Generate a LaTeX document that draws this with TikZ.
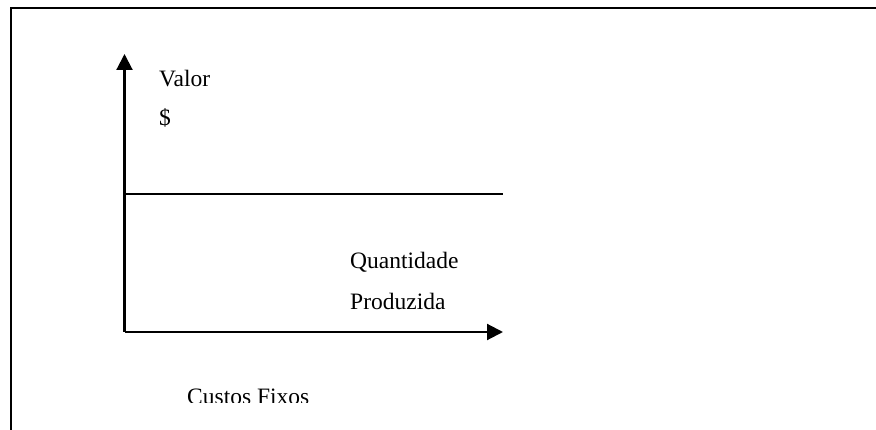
\documentclass[tikz,border=0pt]{standalone}
\usepackage{fontspec}
\setmainfont{Liberation Serif}
\usetikzlibrary{arrows.meta}
\begin{document}
\begin{tikzpicture}[x=1pt,y=-1pt,
  line/.style={line width=2.1pt},
  axis/.style={line width=2.1pt,-{Triangle[length=16pt,width=16pt]}},
  lbl/.style={anchor=base west,inner sep=0pt,font=\fontsize{23.5}{28}\selectfont}]
\useasboundingbox (0,0) rectangle (876,430);
\fill[white] (0,0) rectangle (876,430);
% frame
\coordinate (fbl) at (11,430);
\coordinate (ftl) at (11,8);
\coordinate (ftr) at (876,8);
\draw[line] (fbl) -- (ftl) -- (ftr);
% axes
\coordinate (o) at (124.5,332);
\coordinate (ytip) at (124.5,54);
\coordinate (xtip) at (503,332);
\draw[axis] (o) -- (ytip);
\draw[axis] (o) -- (xtip);
% fixed cost line
\coordinate (cfa) at (124.5,194);
\coordinate (cfb) at (503,194);
\draw[line] (cfa) -- (cfb);
% labels
\node[lbl] (valor) at (159,87) {Valor};
\node[lbl] (dollar) at (159,126) {\$};
\node[lbl] (quant) at (350,269) {Quantidade};
\node[lbl] (prod) at (350,310) {Produzida};
\begin{scope}
\clip (0,0) rectangle (876,403);
\node[lbl] (custos) at (187,404) {Custos Fixos};
\end{scope}
\end{tikzpicture}
\end{document}
